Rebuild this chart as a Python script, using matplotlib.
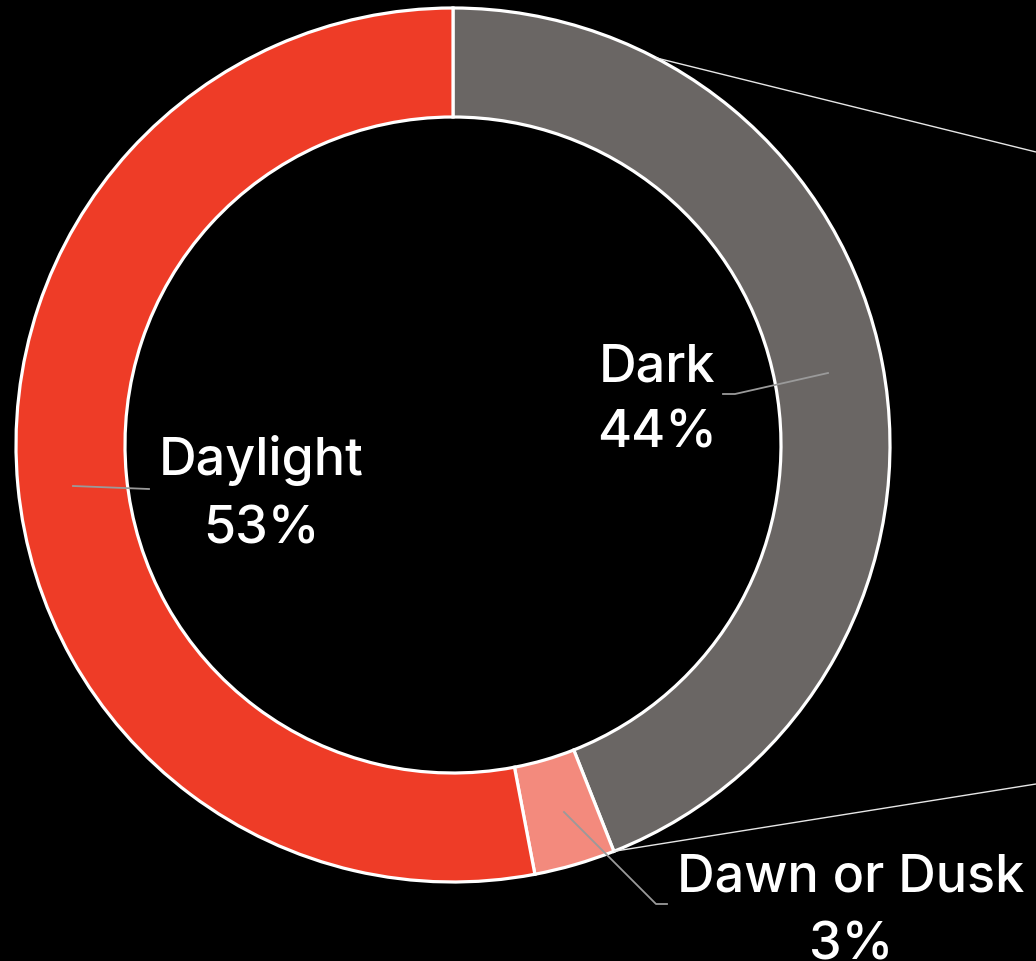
import matplotlib
matplotlib.use("Agg")
import matplotlib.pyplot as plt
import numpy as np

labels = ["Dark", "Dawn or Dusk", "Daylight"]
values = [44, 3, 53]
colors = ["#6a6664", "#f38a7d", "#ee3c27"]

W, H = 1036, 961
CX, CY = 453, 445
R_OUT, R_IN = 437, 328

def P(px, py):
    return (px - CX, CY - py)

fig = plt.figure(figsize=(W / 100, H / 100), dpi=100, facecolor="black")
ax = fig.add_axes([0, 0, 1, 1])
ax.set_facecolor("black")

wedges, _ = ax.pie(values, colors=colors, startangle=90, counterclock=False,
                   radius=R_OUT, center=(0, 0),
                   wedgeprops=dict(width=R_OUT - R_IN, edgecolor="white", linewidth=2.3))

ax.set_xlim(-CX, W - CX)
ax.set_ylim(CY - H, CY)
ax.set_aspect("equal")
ax.axis("off")

# connector lines toward the right edge
def polar(deg, r=R_OUT):
    a = np.deg2rad(deg)
    return (r * np.cos(a), r * np.sin(a))

end_dark = 90 - values[0] / sum(values) * 360
p1 = polar(62.4)
p2 = polar(end_dark)
for s, e in [(p1, P(1036, 152)), (p2, P(1036, 784))]:
    ax.plot([s[0], e[0]], [s[1], e[1]], color="#e6e6e6", lw=1.0, zorder=5,
            solid_capstyle="butt")

# leader lines
leaders = {
    "Dark": [(828, 373), (735, 394), (723, 394)],
    "Daylight": [(73, 486), (149, 489)],
    "Dawn or Dusk": [(564, 812), (656, 904), (667, 904)],
}
for pts in leaders.values():
    xy = np.array([P(*p) for p in pts])
    ax.plot(xy[:, 0], xy[:, 1], color="#9a9a9a", lw=1.3, zorder=6)

# labels
label_pos = {
    "Dark": (657, 381, 448),
    "Daylight": (261, 475, 544),
    "Dawn or Dusk": (851, 892, 960),
}
FONT = ["Inter", "Roboto", "DejaVu Sans"]
total = sum(values)
for lab, v in zip(labels, values):
    x, b1, b2 = label_pos[lab]
    pct = f"{round(v / total * 100)}%"
    ax.text(*P(x, b1), lab, color="white", fontsize=37.5, family=FONT,
            weight="medium", ha="center", va="baseline", zorder=7)
    ax.text(*P(x, b2), pct, color="white", fontsize=37.5, family=FONT,
            weight="medium", ha="center", va="baseline", zorder=7)

fig.savefig("out.png", dpi=100, facecolor="black")
